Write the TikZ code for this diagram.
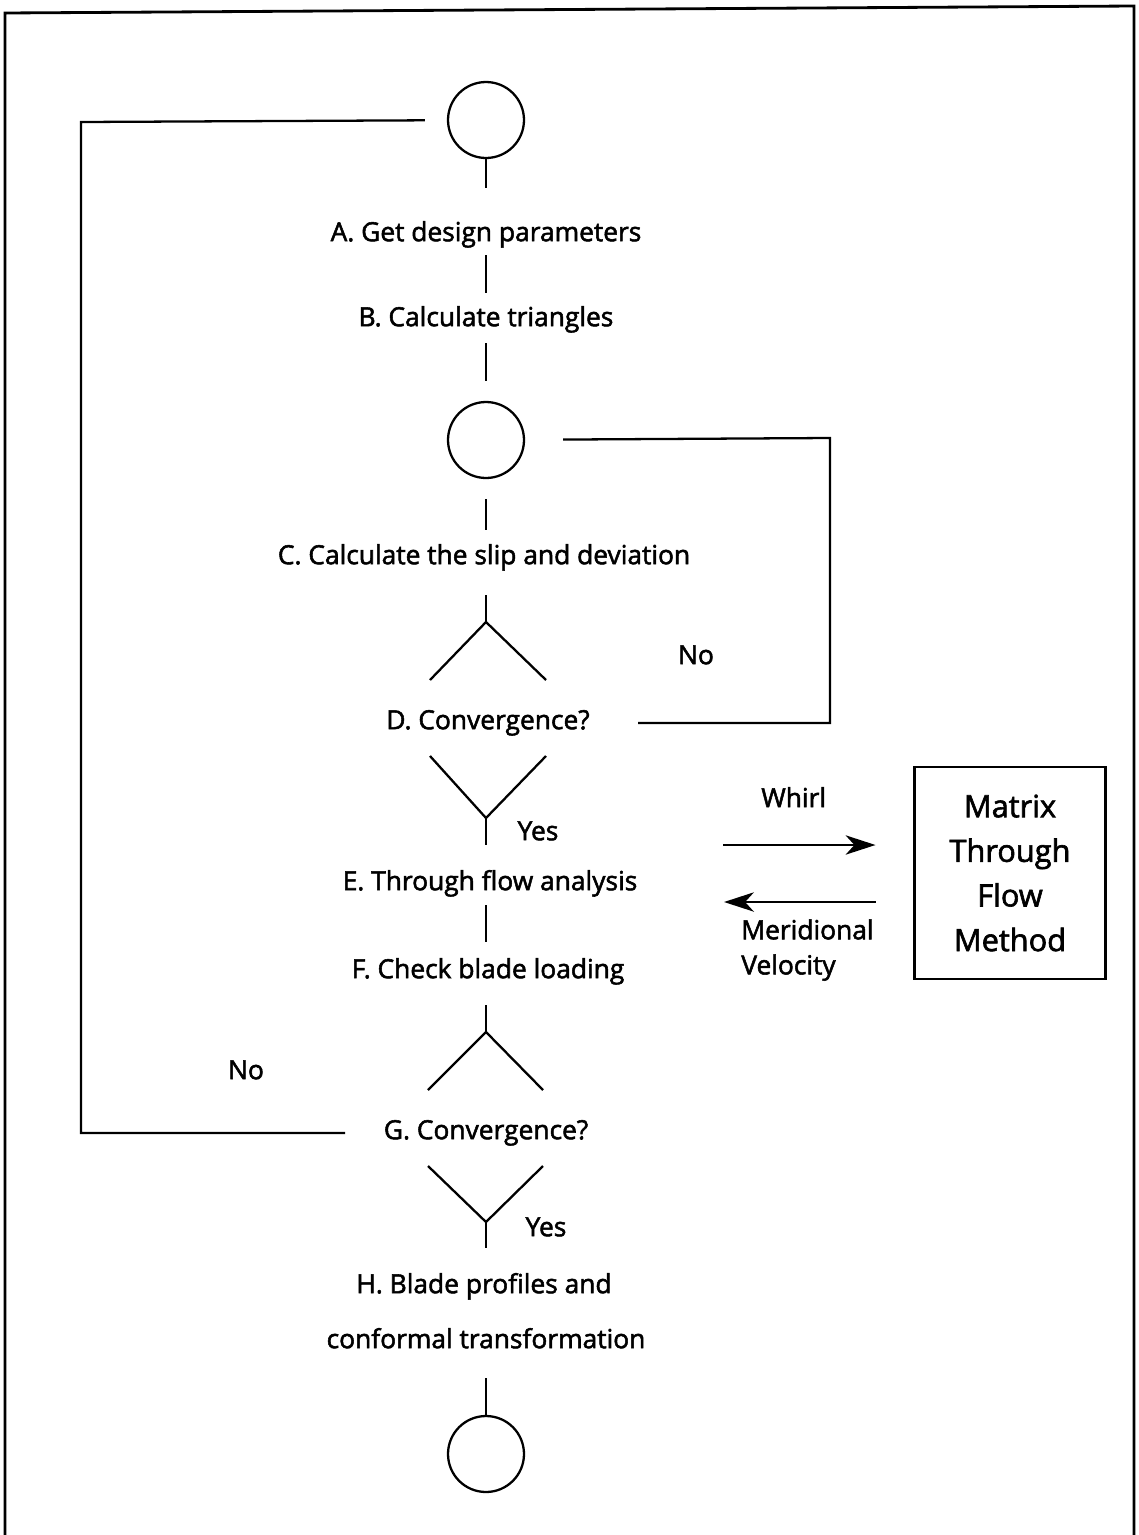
\documentclass[tikz,border=0pt]{standalone}
\usepackage{fontspec}
\setmainfont{Open Sans}[FakeBold=2]
\usetikzlibrary{arrows.meta}

\tikzset{
  link/.style={line width=1.3pt},
  rahmen/.style={line width=1.6pt},
  kreis/.style={circle, draw, line width=1.3pt, minimum size=1.52cm, inner sep=0pt},
  schritt/.style={inner sep=0pt, text height=11.5pt, text depth=3.3pt, font=\fontsize{15}{18}\selectfont},
  methode/.style={draw, line width=1.2pt, minimum width=3.82cm, minimum height=4.24cm, align=center, font=\fontsize{17.5}{25.4}\selectfont},
  pfeil/.style={line width=1.2pt, -{Stealth[length=17pt, width=11pt, inset=5pt]}},
}

\begin{document}
\begin{tikzpicture}[x=0.02cm, y=-0.02cm]
    \useasboundingbox (0,0) rectangle (1139,1535);

    % Rahmen
    \draw[rahmen] (5,1535) to (5,13) to (1134,6) to (1134,1535);

    % Kreise
    \node[kreis] (K1) at (486,120) {};
    \node[kreis] (K2) at (486,440) {};
    \node[kreis] (K3) at (486,1454) {};

    % Schritte
    \node[schritt] (A) at (486,234) {A. Get design parameters};
    \node[schritt] (B) at (486,319) {B. Calculate triangles};
    \node[schritt] (C) at (484,557) {C. Calculate the slip and deviation};
    \node[schritt] (D) at (488,722) {D. Convergence?};
    \node[schritt] (E) at (490,883) {E. Through flow analysis};
    \node[schritt] (F) at (488,971) {F. Check blade loading};
    \node[schritt] (G) at (486,1132) {G. Convergence?};
    \node[schritt] (H1) at (484,1286) {H. Blade profiles and};
    \node[schritt] (H2) at (486,1341) {conformal transformation};

    % Matrix-Verfahren
    \node[methode] (M) at (1010,873) {Matrix\\Through\\Flow\\Method};

    % Entscheidungen
    \coordinate (D0) at (486,622);
    \coordinate (D1) at (430,680);
    \coordinate (D2) at (546,680);
    \coordinate (D3) at (430,756);
    \coordinate (D4) at (546,756);
    \coordinate (D5) at (486,818);

    \coordinate (G0) at (486,1032);
    \coordinate (G1) at (428,1090);
    \coordinate (G2) at (543,1090);
    \coordinate (G3) at (428,1166);
    \coordinate (G4) at (543,1166);
    \coordinate (G5) at (486,1222);

    \draw[link] (D1) to (D0) to (D2);
    \draw[link] (D3) to (D5) to (D4);
    \draw[link] (G1) to (G0) to (G2);
    \draw[link] (G3) to (G5) to (G4);

    % Verbindungen
    \draw[link, shorten >=18.7pt] (K1) to (A);
    \draw[link, shorten <=4.5pt, shorten >=7.4pt] (A) to (B);
    \draw[link, shorten <=6.2pt, shorten >=11.4pt] (B) to (K2);
    \draw[link, shorten <=11.4pt, shorten >=7.9pt] (K2) to (C.north -| K2);
    \draw[link, shorten <=14.2pt] (C.south -| D0) to (D0);
    \draw[link, shorten >=14.2pt] (D5) to (E.north -| D5);
    \draw[link, shorten <=5.1pt, shorten >=9.1pt] (E.south -| K2) to (F.north -| K2);
    \draw[link, shorten <=11.9pt] (F.south -| G0) to (G0);
    \draw[link, shorten >=14.2pt] (G5) to (H1.north -| G5);
    \draw[link, shorten <=13.6pt] (H2) to (K3);

    % Rueckfuehrungen
    \coordinate (DR) at (638,723);
    \coordinate (RO) at (830,438);
    \draw[link, shorten >=21.6pt] (DR) -| (RO) -- (K2);

    \coordinate (GL) at (345,1133);
    \coordinate (LO) at (81,122);
    \draw[link, shorten >=12.5pt] (GL) -| (LO) -- (K1);

    % Pfeile zum Verfahren
    \coordinate (W0) at (723,845);
    \coordinate (V1) at (724,902);
    \draw[pfeil, shorten >=21.6pt] (W0) -- (W0 -| M.west);
    \draw[pfeil, shorten <=21.6pt] (M.west |- V1) -- (V1);

    % Beschriftungen
    \node[schritt] (no1) at (696,657) {No};
    \node[schritt] (no2) at (246,1072) {No};
    \node[schritt] (yes1) at (538,833) {Yes};
    \node[schritt] (yes2) at (546,1229) {Yes};
    \node[schritt, anchor=west] (whirl) at (761,800) {Whirl};
    \node[schritt, anchor=west, align=left, text height=, text depth=, font=\fontsize{15}{20}\selectfont] (meri) at (741,950) {Meridional\\Velocity};
  \end{tikzpicture}
\end{document}
